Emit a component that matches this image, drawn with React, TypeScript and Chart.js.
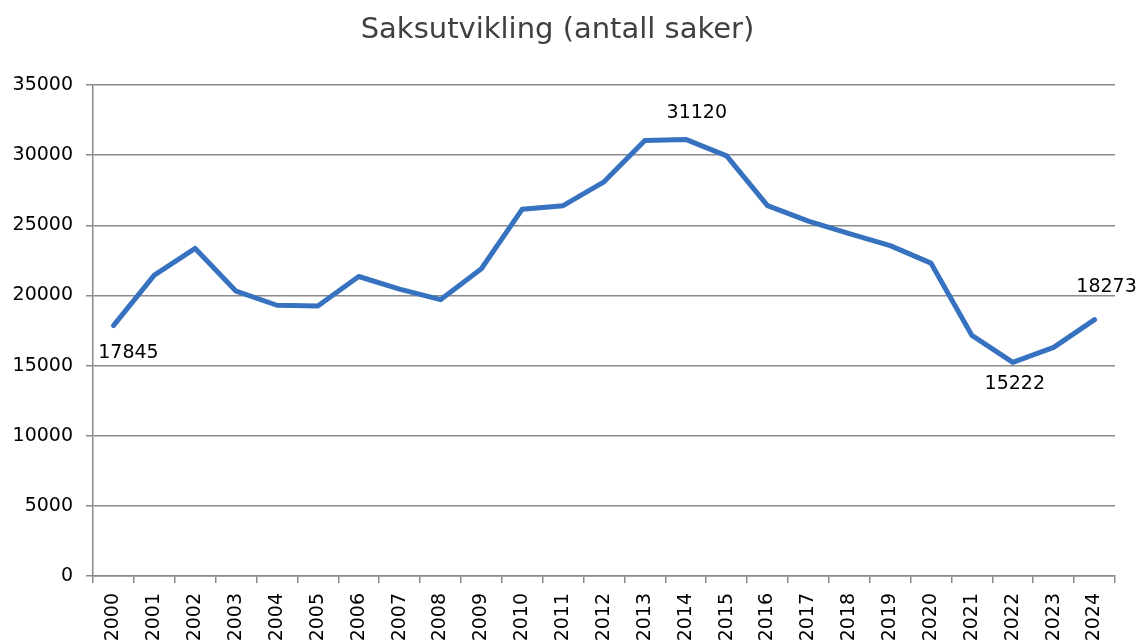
import React, { useEffect, useRef } from "react";
import { Chart, registerables } from "chart.js";

Chart.register(...registerables);

const years = [
  "2000", "2001", "2002", "2003", "2004", "2005", "2006", "2007", "2008", "2009",
  "2010", "2011", "2012", "2013", "2014", "2015", "2016", "2017", "2018", "2019",
  "2020", "2021", "2022", "2023", "2024",
];
const cases = [
  17845, 21450, 23350, 20300, 19300, 19250, 21350, 20450, 19700, 21900,
  26150, 26400, 28100, 31050, 31120, 29950, 26400, 25300, 24400, 23550,
  22300, 17150, 15222, 16300, 18273,
];
const yTicks = [0, 5000, 10000, 15000, 20000, 25000, 30000, 35000];
const labelledIndices = [0, 14, 22, 24];

const FONT = "'DejaVu Sans', 'Open Sans', sans-serif";

const labelOffsets: Record<number, [number, number]> = {
  0: [15, 27],
  14: [11, -26],
  22: [2, 22],
  24: [12, -33],
};

const valueLabelPlugin = {
  id: "valueLabels",
  afterDatasetsDraw(chart: any) {
    const meta = chart.getDatasetMeta(0);
    const ctx = chart.ctx;
    ctx.save();
    ctx.font = `19px ${FONT}`;
    ctx.fillStyle = "#000";
    ctx.textAlign = "center";
    ctx.textBaseline = "middle";
    labelledIndices.forEach((i) => {
      const el = meta.data[i];
      const [dx, dy] = labelOffsets[i] || [0, -20];
      ctx.fillText(String(cases[i]), el.x + dx, el.y + dy);
    });
    ctx.restore();
  },
};

export default function App() {
  const ref = useRef<HTMLCanvasElement | null>(null);
  useEffect(() => {
    if (!ref.current) return;
    const chart = new Chart(ref.current, {
      type: "line",
      data: {
        labels: years,
        datasets: [
          {
            data: cases,
            borderColor: "#3672C0",
            borderWidth: 5,
            pointRadius: 0,
            tension: 0,
            fill: false,
            borderJoinStyle: "round",
            borderCapStyle: "round",
          },
        ],
      },
      options: {
        animation: false,
        responsive: false,
        maintainAspectRatio: false,
        layout: { padding: { left: 0, right: 23, top: 0, bottom: 0 } },
        plugins: {
          legend: { display: false },
          tooltip: { enabled: false },
          title: {
            display: true,
            text: "Saksutvikling (antall saker)",
            color: "#404040",
            font: { family: FONT, size: 29, weight: "normal", lineHeight: 1.2 },
            padding: { top: 13, bottom: 37.2 },
          },
        },
        scales: {
          x: {
            type: "category",
            offset: true,
            grid: {
              display: true,
              drawOnChartArea: false,
              drawTicks: true,
              tickLength: 7,
              color: "#8a8a8a",
              lineWidth: 1.5,
              offset: true,
            },
            border: { display: true, color: "#8a8a8a", width: 1.5 },
            ticks: {
              color: "#000",
              font: { family: FONT, size: 19 },
              maxRotation: 90,
              minRotation: 90,
              autoSkip: false,
              padding: 10,
            },
            afterFit(axis: any) {
              axis.height = 65;
            },
          },
          y: {
            min: 0,
            max: 35000,
            afterBuildTicks(axis: any) {
              axis.ticks = yTicks.map((v) => ({ value: v }));
            },
            grid: {
              display: true,
              color: "#8a8a8a",
              lineWidth: 1.5,
              drawTicks: true,
              tickLength: 7,
            },
            border: { display: true, color: "#8a8a8a", width: 1.5 },
            ticks: {
              color: "#000",
              font: { family: FONT, size: 19 },
              padding: 13,
              callback: (v: any) => String(v),
            },
            afterFit(axis: any) {
              axis.width = 93;
            },
          },
        },
      },
      plugins: [valueLabelPlugin],
    });
    return () => chart.destroy();
  }, []);
  return (
    <div style={{ position: "fixed", left: 0, top: 0, width: 1138, height: 641, background: "#fff" }}>
      <canvas ref={ref} width={1138} height={641} style={{ width: 1138, height: 641 }} />
    </div>
  );
}
